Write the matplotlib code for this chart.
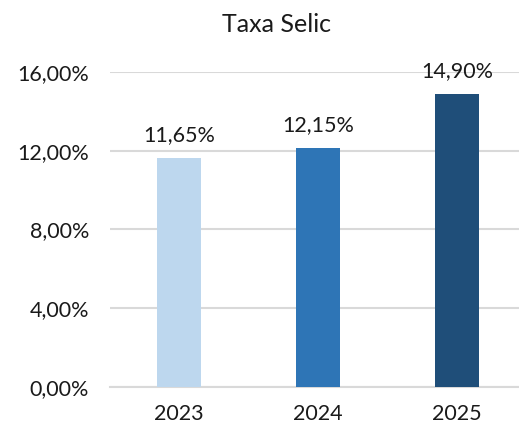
import matplotlib
matplotlib.use('Agg')
from matplotlib import pyplot as plt
from matplotlib.ticker import FuncFormatter

anos = ['2023', '2024', '2025']
selic = [11.65, 12.15, 14.90]
cores = ['#BDD7EE', '#2E75B6', '#1F4E79']
y_ticks = [0, 4, 8, 12, 16]


def fmt_pct(v, pos=None):
    return ('%.2f%%' % v).replace('.', ',')


plt.rcParams['font.family'] = ['Lato', 'DejaVu Sans']

fig = plt.figure(figsize=(5.19, 4.28), dpi=100)
ax = fig.add_axes([110 / 519, 1 - 387 / 428, 409 / 519, 315 / 428])

x = list(range(len(anos)))
bars = ax.bar(x, selic, width=0.317, color=cores, zorder=3)

for b, v in zip(bars, selic):
    ax.annotate(fmt_pct(v), (b.get_x() + b.get_width() / 2, v),
                xytext=(0, 9), textcoords='offset points',
                ha='center', va='bottom', fontsize=15.5, color='#1a1a1a')

ax.set_ylim(0, 16)
ax.set_xlim(-0.496, 2.446)
ax.set_yticks(y_ticks)
ax.yaxis.set_major_formatter(FuncFormatter(fmt_pct))
ax.set_xticks(x)
ax.set_xticklabels(anos)
ax.grid(axis='y', color='#D9D9D9', linewidth=1.5, zorder=0)
ax.tick_params(axis='both', length=0, labelsize=15.5, labelcolor='#1a1a1a')
ax.tick_params(axis='x', pad=12)
ax.tick_params(axis='y', pad=15)
for s in ['top', 'right', 'left']:
    ax.spines[s].set_visible(False)
ax.spines['bottom'].set_color('#D9D9D9')
ax.spines['bottom'].set_linewidth(1.5)

fig.text(277 / 519, 1 - 24 / 428, 'Taxa Selic', ha='center', va='center',
         fontsize=18, color='#1a1a1a')

fig.savefig('out.png', dpi=100)
